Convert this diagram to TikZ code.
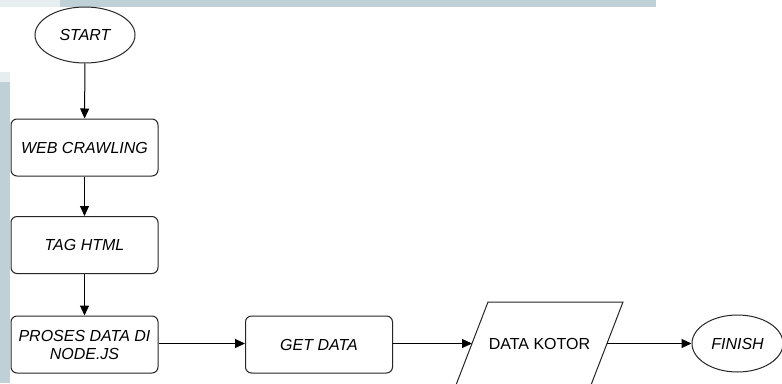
\documentclass[tikz,border=0pt]{standalone}
\usepackage{fontspec}
\setmainfont{Liberation Sans}
\usetikzlibrary{shapes.geometric,arrows.meta}
\definecolor{bandcol}{HTML}{BFD1D7}
\definecolor{bandlight}{HTML}{E6EEF0}
\definecolor{linecol}{HTML}{262626}
\begin{document}
\begin{tikzpicture}[x=1pt,y=-1pt,
  every node/.style={font=\fontsize{16}{18}\selectfont\itshape, text=black},
  proc/.style={draw=linecol, line width=1pt, rounded corners=6pt, minimum width=147pt, minimum height=57pt, align=center, inner sep=1pt},
  term/.style={draw=linecol, line width=1pt, ellipse, inner sep=0pt},
  iotext/.style={minimum width=100pt, minimum height=83pt, inner sep=0pt, font=\fontsize{16}{18}\selectfont\upshape},
  iobox/.style={draw=linecol, line width=1pt},
  flow/.style={draw=black, line width=1pt, -{Triangle[length=10pt,width=9pt]}}]
\useasboundingbox (0,0) rectangle (782,383);
\fill[white] (0,0) rectangle (782,383);
\fill[bandcol] (60,0) rectangle (656,7);
\fill[bandlight] (0,0) rectangle (60,7);
\fill[bandlight] (0,72) rectangle (10,82);
\fill[bandcol] (0,82) rectangle (10,383);
\node[term, minimum width=100pt, minimum height=56pt] (start) at (85,35) {START};
\node[proc] (web) at (84.5,147.5) {WEB CRAWLING};
\node[proc] (tag) at (84.5,245) {TAG HTML};
\node[proc] (proses) at (84.5,344.5) {PROSES DATA DI\\NODE.JS};
\node[proc] (get) at (319,344.5) {GET DATA};
\node[iotext] (kotor) at (539.5,343.5) {DATA KOTOR};
\draw[iobox] ([shift={(-51.5,-41.5)}]kotor.center) -- ([shift={(83.5,-41.5)}]kotor.center)
  -- ([shift={(51.5,41.5)}]kotor.center) -- ([shift={(-83.5,41.5)}]kotor.center) -- cycle;
\coordinate (kotorW) at ([xshift=-67.5pt]kotor.center);
\coordinate (kotorE) at ([xshift=67.5pt]kotor.center);
\node[term, minimum width=91pt, minimum height=57pt] (finish) at (737.5,343.5) {FINISH};
\draw[flow] (start) -- (web);
\draw[flow] (web) -- (tag);
\draw[flow] (tag) -- (proses);
\draw[flow] (proses.east |- kotor.center) -- (get.west |- kotor.center);
\draw[flow] (get.east |- kotor.center) -- (kotorW);
\draw[flow] (kotorE) -- (finish.west);
\end{tikzpicture}
\end{document}
